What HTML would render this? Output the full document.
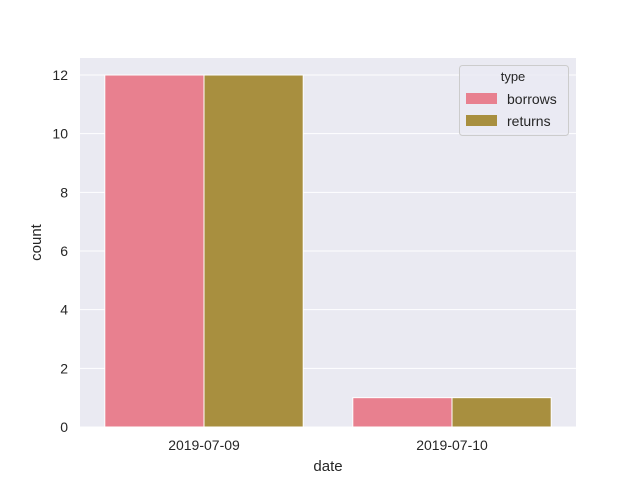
<!DOCTYPE html>
<html><head><meta charset="utf-8"><style>body{margin:0;background:#fff}svg{font-family:"Liberation Sans","DejaVu Sans",sans-serif}</style></head>
<body>
<svg id="c" width="640" height="480"></svg>
<script>
const categories=["2019-07-09","2019-07-10"];
const seriesNames=["borrows","returns"];
const borrows=[12,1];
const returns=[12,1];
const yTicks=[0,2,4,6,8,10,12];
const colors=["#e8808f","#a88f3f"];
const NS="http://www.w3.org/2000/svg";
const svg=document.getElementById('c');
const L=80,R=576,T=58,B=427,yMax=12.58;
const y=v=>B-(v/yMax)*(B-T);
const bandW=(R-L)/categories.length;
const x=i=>L+bandW*(i+0.5);
function el(t,a,txt){const e=document.createElementNS(NS,t);for(const k in a)e.setAttribute(k,a[k]);if(txt!=null)e.textContent=txt;svg.appendChild(e);return e;}
let e=el('rect',{x:L,y:T,width:R-L,height:B-T,fill:'#eaeaf2'});


yTicks.forEach(t=>{
 let g=el('line',{x1:L,x2:R,y1:y(t),y2:y(t),stroke:'#fff','stroke-width':1});
 
 
 let l=el('text',{x:L-12,y:y(t)+5,'text-anchor':'end','font-size':14,fill:'#262626'},t);
 
 
});
const data=[borrows,returns];
const bw=bandW*0.8/2;
categories.forEach((c,i)=>{
 data.forEach((s,j)=>{
  let b=el('rect',{x:x(i)-bandW*0.4+j*bw,y:y(s[i]),width:bw,height:B-y(s[i]),fill:colors[j],stroke:'#fff','stroke-width':1});
  
  
 });
 let l=el('text',{x:x(i),y:B+23,'text-anchor':'middle','font-size':14,fill:'#262626'},c);
 
 
});
e=el('text',{x:(L+R)/2,y:471,'text-anchor':'middle','font-size':15,fill:'#262626'},'date');


e=el('text',{x:41,y:(T+B)/2,'text-anchor':'middle','font-size':15,fill:'#262626',transform:`rotate(-90 41 ${(T+B)/2})`},'count');


e=el('rect',{x:459.5,y:65.5,width:109,height:70,rx:3,fill:'#eaeaf2','fill-opacity':0.8,stroke:'#cccccc'});


e=el('text',{x:513,y:81,'text-anchor':'middle','font-size':13,fill:'#262626'},'type');


seriesNames.forEach((n,j)=>{
 let s=el('rect',{x:466,y:93+j*22,width:31,height:11,fill:colors[j]});
 
 
 let t=el('text',{x:507,y:104+j*22,'font-size':14,fill:'#262626'},n);
 
 
});
</script>
</body></html>
